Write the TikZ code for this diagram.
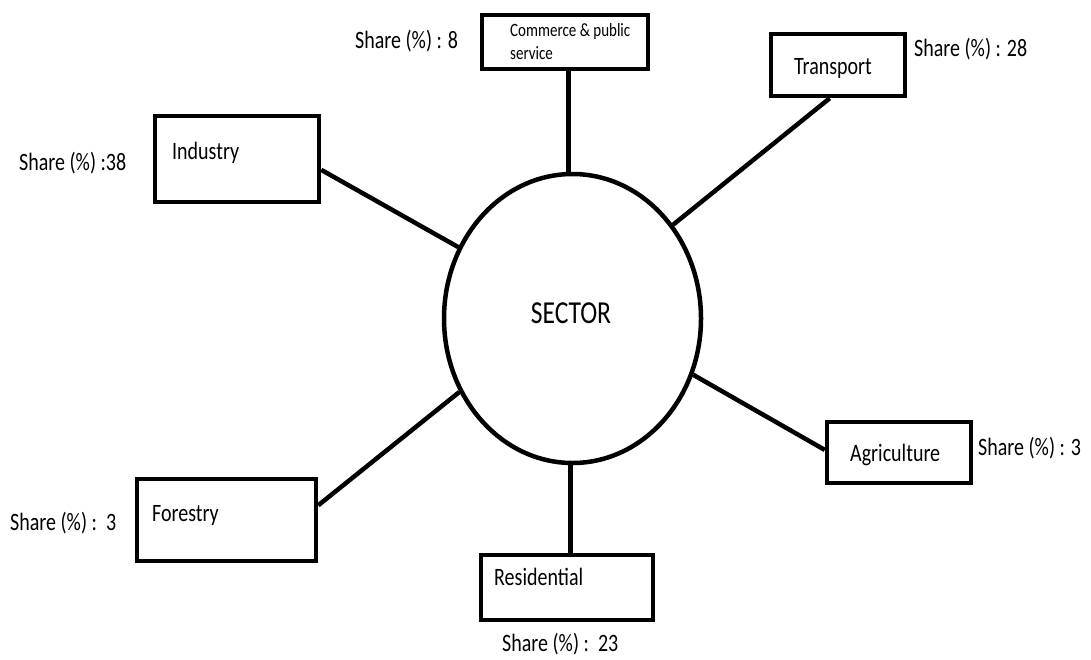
\documentclass[tikz,border=0pt]{standalone}
\usepackage{fontspec}
\setmainfont{Carlito}[FakeStretch=0.8]
\usetikzlibrary{shapes.geometric,calc}
\begin{document}
\begin{tikzpicture}[x=1pt,y=-1pt,
  box/.style={draw,line width=4.5pt,rectangle,inner sep=0pt},
  link/.style={line width=4.5pt},
  lbl/.style={anchor=base west,inner sep=0pt,font=\fontsize{25}{30}\selectfont},
  boxtxt/.style={anchor=base west,inner sep=0pt,font=\fontsize{25}{30}\selectfont}]
\useasboundingbox (0,0) rectangle (1091,659);
% centre
\node[draw,ellipse,line width=4.5pt,inner sep=0pt,minimum width=257pt,minimum height=289pt] (sec) at (572.5,318.5) {};
\node[anchor=base,inner sep=0pt,font=\fontsize{32}{36}\selectfont] (sectxt) at (571,323) {SECTOR};
% boxes
\node[box,minimum width=166pt,minimum height=54pt] (com) at (565,42) {};
\node[box,minimum width=164pt,minimum height=86pt] (ind) at (237,159) {};
\node[box,minimum width=134pt,minimum height=62pt] (tra) at (838,65) {};
\node[box,minimum width=144pt,minimum height=61pt] (agr) at (899,452.5) {};
\node[box,minimum width=179pt,minimum height=82pt] (for) at (226.5,520) {};
\node[box,minimum width=172pt,minimum height=65pt] (res) at (567,587.5) {};
% box texts
\node[anchor=base west,inner sep=0pt,align=left,font=\fontsize{18.75}{23}\selectfont] (comtxt) at (510,59) {Commerce \& public\\service};
\node[boxtxt] (indtxt) at (172,159) {Industry};
\node[boxtxt] (tratxt) at (794,74) {Transport};
\node[boxtxt] (agrtxt) at (850,461) {Agriculture};
\node[boxtxt] (fortxt) at (152,521) {Forestry};
\node[boxtxt] (restxt) at (494,585) {Residential};
% shares
\node[lbl] (comshare) at (355,48) {Share (\%) : 8};
\node[lbl] (indshare) at (19,170) {Share (\%) :38};
\node[lbl] (trashare) at (914,56.5) {Share (\%) : 28};
\node[lbl] (agrshare) at (978,455) {Share (\%) : 3};
\node[lbl] (forshare) at (10,530) {Share (\%) :\ \ 3};
\node[lbl] (resshare) at (502,651.5) {Share (\%) :\ \ 23};
% connectors
\draw[link] ($(com.south west)!0.52!(com.south east)$) coordinate (comb) -- (comb |- sec.north);
\draw[link] ($(ind.north east)!0.62!(ind.south east)$) -- (sec.148);
\draw[link] ($(tra.south west)!0.44!(tra.south east)$) -- (sec.43.5);
\draw[link] ($(agr.north west)!0.46!(agr.south west)$) -- (sec.-25);
\draw[link] ($(for.north east)!0.33!(for.south east)$) -- (sec.213.8);
\draw[link] ($(res.north west)!0.52!(res.north east)$) coordinate (resb) -- (resb |- sec.south);
\end{tikzpicture}
\end{document}
